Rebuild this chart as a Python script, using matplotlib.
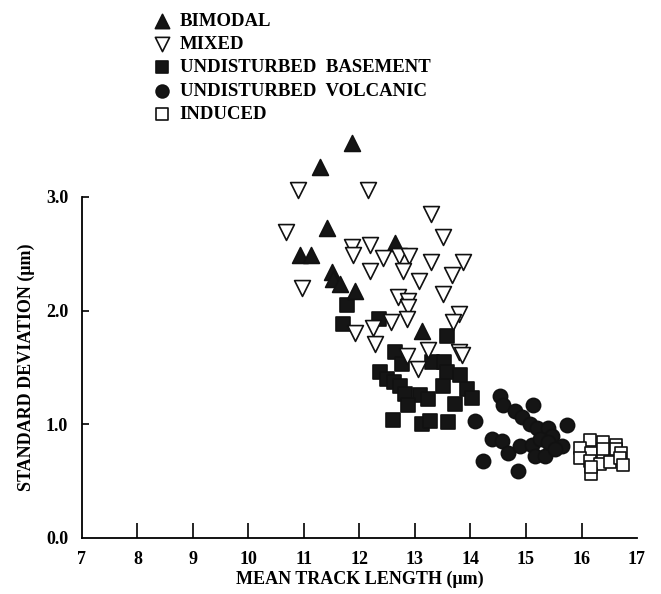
import matplotlib
matplotlib.use('Agg')
import matplotlib.pyplot as plt

plt.rcParams['font.family'] = ['Liberation Serif', 'DejaVu Serif']
plt.rcParams['font.weight'] = 'bold'
plt.rcParams['axes.labelweight'] = 'bold'

# mean track length (um), standard deviation (um)
bimodal_x = [11.87, 11.29, 11.41, 10.93, 11.13, 11.50, 11.53, 11.65, 11.92, 12.64, 13.12]
bimodal_y = [3.47, 3.26, 2.73, 2.49, 2.49, 2.34, 2.28, 2.23, 2.17, 2.59, 1.82]

mixed_x = [10.89, 12.16, 13.28, 10.67, 13.51, 11.86, 11.88, 12.19, 12.43, 12.72,
           12.90, 13.28, 13.86, 12.19, 12.79, 13.66, 13.08, 10.96, 13.50, 12.70,
           12.88, 12.88, 13.80, 12.56, 12.85, 13.68, 11.92, 12.24, 12.28, 13.24,
           13.80, 13.84, 12.86, 13.06]
mixed_y = [3.06, 3.06, 2.85, 2.69, 2.65, 2.56, 2.49, 2.58, 2.46, 2.48,
           2.48, 2.43, 2.43, 2.35, 2.35, 2.31, 2.26, 2.20, 2.15, 2.12,
           2.08, 2.03, 1.97, 1.90, 1.93, 1.90, 1.80, 1.85, 1.71, 1.65,
           1.64, 1.61, 1.60, 1.49]

basement_x = [11.77, 11.70, 12.36, 13.58, 12.64, 12.76, 13.30, 13.52, 13.57, 13.81,
              13.51, 12.37, 12.50, 12.62, 12.73, 12.82, 13.09, 13.24, 12.88, 13.93,
              14.02, 13.72, 12.61, 13.12, 13.27, 13.60]
basement_y = [2.05, 1.88, 1.93, 1.78, 1.64, 1.53, 1.55, 1.55, 1.46, 1.43,
              1.34, 1.46, 1.40, 1.37, 1.34, 1.27, 1.26, 1.22, 1.17, 1.31,
              1.23, 1.18, 1.04, 1.00, 1.03, 1.02]

volcanic_x = [14.08, 14.53, 14.59, 14.80, 14.92, 15.13, 15.07, 15.19, 15.40, 15.46,
              15.73, 14.38, 14.56, 14.68, 14.89, 15.10, 15.25, 15.16, 15.34, 15.64,
              14.23, 14.86, 15.40, 15.52]
volcanic_y = [1.03, 1.25, 1.17, 1.12, 1.06, 1.17, 1.00, 0.97, 0.97, 0.90,
              0.99, 0.87, 0.85, 0.75, 0.81, 0.82, 0.87, 0.72, 0.72, 0.81,
              0.68, 0.59, 0.84, 0.78]

induced_x = [16.15, 16.39, 16.63, 15.97, 16.18, 16.39, 16.63, 16.72, 15.97, 16.15,
             16.33, 16.51, 16.69, 16.75, 16.18, 16.18]
induced_y = [0.86, 0.84, 0.82, 0.79, 0.75, 0.78, 0.78, 0.75, 0.70, 0.68,
             0.65, 0.67, 0.70, 0.64, 0.56, 0.62]

xticks = list(range(7, 18))
yticks = [0.0, 1.0, 2.0, 3.0]

fig = plt.figure(figsize=(6.61, 5.94), dpi=100)
ax = fig.add_axes([82 / 661, 56 / 594, 555 / 661, 398 / 594])

kw = dict(clip_on=False, linewidths=1.2, edgecolors='#111111')
ax.scatter(basement_x, basement_y, marker='s', s=90, c='#151515', label='UNDISTURBED  BASEMENT', **kw)
ax.scatter(volcanic_x, volcanic_y, marker='o', s=105, c='#151515', label='UNDISTURBED  VOLCANIC', **kw)
ax.scatter(induced_x, induced_y, marker='s', s=80, c='white', label='INDUCED', **kw)
ax.scatter(bimodal_x, bimodal_y, marker='^', s=130, c='#151515', label='BIMODAL', **kw)
ax.scatter(mixed_x, mixed_y, marker='v', s=130, c='white', label='MIXED', **kw)

ax.set_xlim(7, 17)
ax.set_ylim(0, 3.5)
ax.spines['top'].set_visible(False)
ax.spines['right'].set_visible(False)
ax.spines['left'].set_bounds(0, 3.0)
ax.spines['left'].set_linewidth(1.3)
ax.spines['bottom'].set_linewidth(1.3)

ax.set_xticks(xticks)
ax.set_xticklabels([str(t) for t in xticks], fontsize=13)
ax.set_yticks(yticks)
ax.set_yticklabels(['%.1f' % t for t in yticks], fontsize=13)
ax.tick_params(axis='x', direction='in', length=11, width=1.2, pad=9)
ax.tick_params(axis='y', direction='in', length=5, width=1.2, pad=10)
xt = ax.xaxis.get_major_ticks()
xt[0].tick1line.set_visible(False)
xt[-1].tick1line.set_visible(False)
ax.yaxis.get_major_ticks()[0].tick1line.set_visible(False)

ax.set_xlabel('MEAN TRACK LENGTH (\u03bcm)', fontsize=13, labelpad=2)
ax.set_ylabel('STANDARD DEVIATION (\u03bcm)', fontsize=13)
ax.yaxis.set_label_coords(-0.085, 3.0 / 7.0)

handles, labels = ax.get_legend_handles_labels()
order = [3, 4, 0, 1, 2]
fig.legend([handles[i] for i in order], [labels[i] for i in order],
           loc='upper left', bbox_to_anchor=(145 / 661, 1 - 5 / 594),
           frameon=False, handletextpad=0.45, labelspacing=0.33,
           handlelength=1.0, markerscale=0.9, borderaxespad=0,
           prop={'weight': 'bold', 'size': 13.5})

fig.savefig('out.png', dpi=100)
